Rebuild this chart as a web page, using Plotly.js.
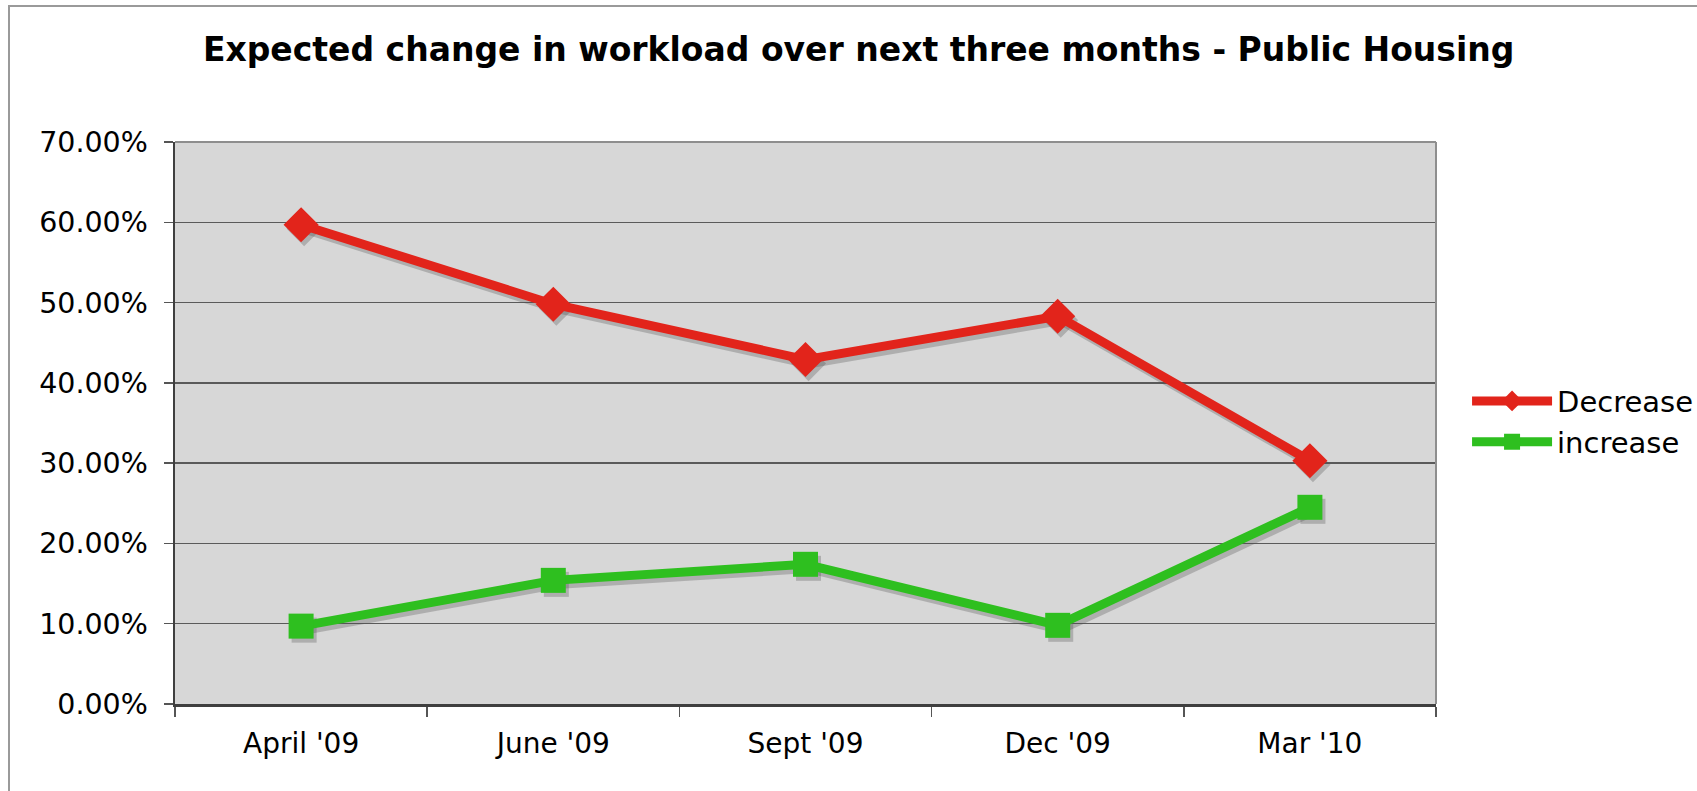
<!DOCTYPE html>
<html>
<head>
<meta charset="utf-8">
<script src="https://cdn.plot.ly/plotly-3.0.1.min.js"></script>
<style>
  html, body { margin: 0; padding: 0; background: #ffffff; }
  #frame { position: absolute; left: 8px; top: 5px; width: 1700px; height: 800px;
           border-left: 2px solid #9a9a9a; border-top: 2px solid #9a9a9a; pointer-events: none; z-index: 5; }
  #chart { width: 1697px; height: 791px; }
</style>
</head>
<body>
<div id="frame"></div>
<div id="chart"></div>
<script>
// ---- data ----
const categories = ["April '09", "June '09", "Sept '09", "Dec '09", "Mar '10"];
const decreaseValues = [0.597, 0.498, 0.429, 0.483, 0.303];
const increaseValues = [0.097, 0.154, 0.174, 0.098, 0.245];
const seriesNames = ["Decrease", "increase"];
const yTickValues = [0, 0.1, 0.2, 0.3, 0.4, 0.5, 0.6, 0.7];

const RED = '#e2241b';
const GREEN = '#2ebf1f';
const FONT = '"DejaVu Sans", Verdana, sans-serif';

// shadow offsets (style only): shift in axis units
const sx = 0.012, sy = 0.005;

const traces = [
  // invisible anchor trace on the base axes (registers categories / subplot)
  { x: categories, y: decreaseValues, type: 'scatter', mode: 'markers',
    xaxis: 'x', yaxis: 'y', showlegend: false, hoverinfo: 'skip',
    marker: { opacity: 0, size: 1 } },
  // shadows (drawn beneath)
  { x: categories, y: decreaseValues, type: 'scatter', mode: 'lines+markers',
    xaxis: 'x2', yaxis: 'y2', showlegend: false, hoverinfo: 'skip',
    line: { color: 'rgba(80,80,80,0.3)', width: 9.5 },
    marker: { symbol: 'diamond', size: 27, color: 'rgba(80,80,80,0.3)' } },
  { x: categories, y: increaseValues, type: 'scatter', mode: 'lines+markers',
    xaxis: 'x2', yaxis: 'y2', showlegend: false, hoverinfo: 'skip',
    line: { color: 'rgba(80,80,80,0.3)', width: 9.5 },
    marker: { symbol: 'square', size: 25, color: 'rgba(80,80,80,0.3)' } },
  // main series
  { x: categories, y: decreaseValues, name: seriesNames[0], type: 'scatter', mode: 'lines+markers',
    xaxis: 'x3', yaxis: 'y3',
    line: { color: RED, width: 9 },
    marker: { symbol: 'diamond', size: 27, color: RED } },
  { x: categories, y: increaseValues, name: seriesNames[1], type: 'scatter', mode: 'lines+markers',
    xaxis: 'x3', yaxis: 'y3',
    line: { color: GREEN, width: 9 },
    marker: { symbol: 'square', size: 25, color: GREEN } }
];

const baseX = {
  type: 'category', categoryorder: 'array', categoryarray: categories, range: [-0.5, 4.5], fixedrange: true
};
const baseY = { range: [0, 0.7], fixedrange: true };

const layout = {
  width: 1697, height: 791,
  paper_bgcolor: '#ffffff',
  plot_bgcolor: '#d7d7d7',
  margin: { l: 175, r: 261, t: 142, b: 87, autoexpand: false },
  font: { family: FONT, color: '#000000', size: 28 },
  title: {
    text: '<b>Expected change in workload over next three months - Public Housing</b>',
    font: { family: FONT, size: 33, color: '#000000' },
    x: 0.506, xanchor: 'center', xref: 'container',
    y: 0.938, yanchor: 'middle', yref: 'container'
  },
  xaxis: Object.assign({}, baseX, {
    tickson: 'boundaries', ticks: 'outside', ticklen: 10, tickwidth: 1.5, tickcolor: '#555555',
    showline: true, linecolor: '#3f3f3f', linewidth: 2.5,
    showgrid: false, zeroline: false,
    tickfont: { family: FONT, size: 28, color: '#000000' },
    ticklabelstandoff: 13
  }),
  yaxis: Object.assign({}, baseY, {
    tickvals: yTickValues, tickformat: '.2%',
    ticks: 'outside', ticklen: 9, tickwidth: 1.5, tickcolor: '#555555',
    showline: true, linecolor: '#3f3f3f', linewidth: 2.5,
    showgrid: true, gridcolor: '#5a5a5a', gridwidth: 1.5, zeroline: false,
    tickfont: { family: FONT, size: 28.5, color: '#000000' },
    ticklabelstandoff: 10
  }),
  xaxis2: Object.assign({}, baseX, { overlaying: 'x', range: [-0.5 - sx, 4.5 - sx], visible: false }),
  yaxis2: Object.assign({}, baseY, { overlaying: 'y', range: [0 + sy, 0.7 + sy], visible: false }),
  xaxis3: Object.assign({}, baseX, { overlaying: 'x', visible: false }),
  yaxis3: Object.assign({}, baseY, { overlaying: 'y', visible: false }),
  shapes: [
    { type: 'line', xref: 'paper', yref: 'paper', x0: 0, x1: 1, y0: 1, y1: 1,
      line: { color: '#8e8e8e', width: 2 } },
    { type: 'line', xref: 'paper', yref: 'paper', x0: 1, x1: 1, y0: 0, y1: 1,
      line: { color: '#8e8e8e', width: 2 } }
  ],
  showlegend: true,
  legend: {
    xref: 'container', yref: 'container',
    x: 0.8645, xanchor: 'left', y: 0.467, yanchor: 'middle',
    bgcolor: 'rgba(0,0,0,0)', borderwidth: 0,
    font: { family: FONT, size: 29, color: '#000000' },
    itemwidth: 80, tracegroupgap: 0
  },
  hovermode: false
};

Plotly.newPlot('chart', traces, layout, { displayModeBar: false, staticPlot: true });
</script>
</body>
</html>
